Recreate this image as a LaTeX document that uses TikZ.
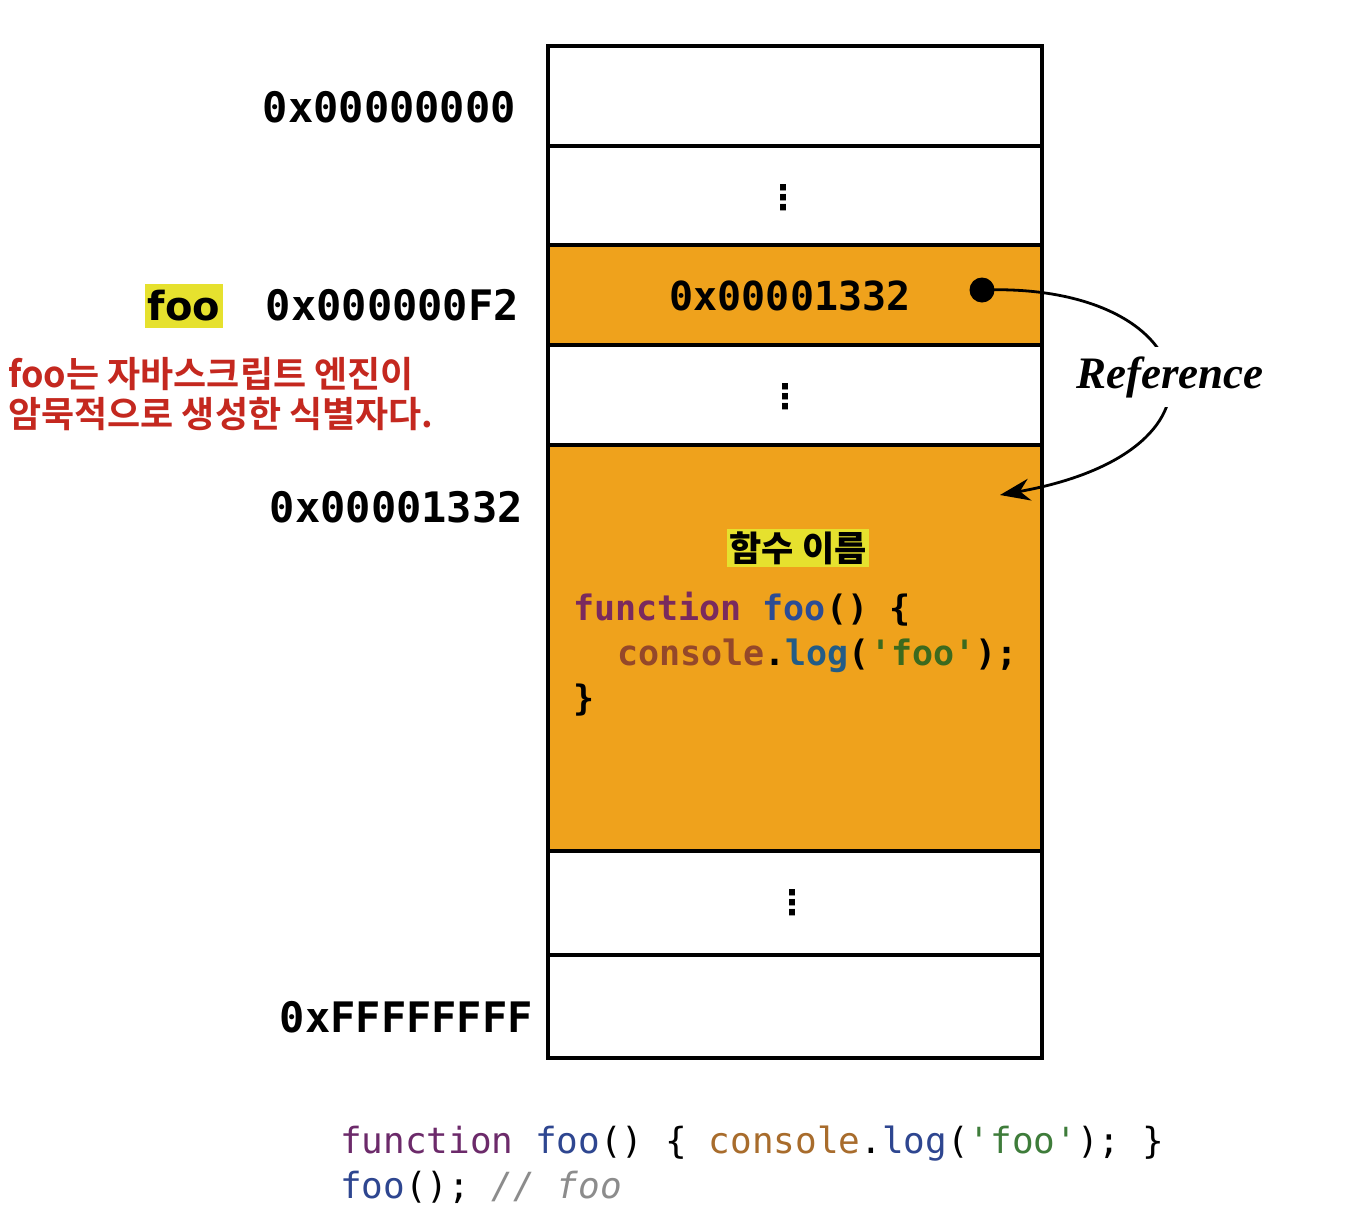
\documentclass[tikz,border=0pt]{standalone}
\usepackage{fontspec}
\setmonofont{DejaVu Sans Mono}
\newfontfamily\krfont{Noto Sans CJK KR}[BoldFont={Noto Sans CJK KR Bold}]
\newfontfamily\krblack{Noto Sans CJK KR Black}
\newfontfamily\reffont{Liberation Serif}
\newfontfamily\symfont{DejaVu Sans}
\usetikzlibrary{arrows.meta}
\definecolor{cellOrange}{HTML}{EFA21C}
\definecolor{hlYellow}{HTML}{E6E12E}
\definecolor{noteRed}{HTML}{C4281F}
\definecolor{kwPurple}{HTML}{7A2A5E}
\definecolor{fnBlue}{HTML}{2C4C94}
\definecolor{objBrown}{HTML}{94482A}
\definecolor{logBlue}{HTML}{235C86}
\definecolor{strGreen}{HTML}{3C6A1E}
\definecolor{kwPurpleB}{HTML}{6C2A6A}
\definecolor{fnBlueB}{HTML}{2E4690}
\definecolor{objBrownB}{HTML}{A86C2C}
\definecolor{strGreenB}{HTML}{3E7C3A}
\definecolor{cmtGray}{HTML}{8C8C8C}
\newcommand\sq{\textquotesingle}
\begin{document}
\begin{tikzpicture}[x=1pt,y=-1pt,
  cell/.style={draw=black, line width=3.4pt, minimum width=494pt, inner sep=0pt, outer sep=0pt},
  addr/.style={font=\ttfamily\bfseries\fontsize{42}{50}\selectfont, anchor=east, inner sep=0pt},
  vdots/.style={font=\symfont\bfseries\fontsize{34}{40}\selectfont, inner sep=0pt},
  codeA/.style={font=\ttfamily\bfseries\fontsize{35}{45}\selectfont, anchor=base west, inner sep=0pt},
  codeB/.style={font=\ttfamily\fontsize{36}{45}\selectfont, anchor=base west, inner sep=0pt},
  hl/.style={fill=hlYellow, inner sep=0pt},
  reflabel/.style={font=\reffont\bfseries\itshape\fontsize{45}{50}\selectfont, fill=white, inner xsep=3pt, inner ysep=9pt},
  refarrow/.style={line width=2.8pt, -{Stealth[length=30pt,width=22pt]}}
]
\useasboundingbox[fill=white] (0,0) rectangle (1367,1221);

% memory cells
\node[cell, minimum height=100pt] (r1) at (795,96) {};
\node[cell, minimum height=99pt] (r2) at (795,195.5) {};
\node[cell, fill=cellOrange, minimum height=100pt] (r3) at (795,295) {};
\node[cell, minimum height=100pt] (r4) at (795,395) {};
\node[cell, fill=cellOrange, minimum height=406pt] (r5) at (795,648) {};
\node[cell, minimum height=104pt] (r6) at (795,903) {};
\node[cell, minimum height=103pt] (r7) at (795,1006.5) {};

% vertical dots
\node[vdots] (d1) at (783,198) {⋮};
\node[vdots] (d2) at (785,397) {⋮};
\node[vdots] (d3) at (792,903) {⋮};

% addresses
\node[addr] (a0) at (516,107) {0x00000000};
\node[addr] (a1) at (519,305) {0x000000F2};
\node[addr] (a2) at (523,507) {0x00001332};
\node[addr] (a3) at (533,1017) {0xFFFFFFFF};

% foo identifier
\node[hl, minimum width=78pt, minimum height=44pt, font=\symfont\bfseries\fontsize{40}{46}\selectfont] (foo) at (184,306) {foo};
\node[anchor=west, align=left, inner sep=0pt, text=noteRed, font=\krfont\bfseries\fontsize{36}{40}\selectfont] (note) at (8,394) {foo는 자바스크립트 엔진이\\암묵적으로 생성한 식별자다.};

% value in cell
\node[font=\ttfamily\bfseries\fontsize{40}{48}\selectfont, inner sep=0pt] (val) at (790,296) {0x00001332};
\node[circle, fill=black, minimum size=25pt, inner sep=0pt] (dot) at (982,290) {};

% function object
\node[hl, inner xsep=3pt, inner ysep=2pt, font=\krblack\fontsize{35}{40}\selectfont] (fname) at (798,548) {함수 이름};
\node[codeA] (c1) at (573,620) {\textcolor{kwPurple}{function} \textcolor{fnBlue}{foo}() \{};
\node[codeA] (c2) at (617,665) {\textcolor{objBrown}{console}.\textcolor{logBlue}{log}(\textcolor{strGreen}{\sq foo\sq});};
\node[codeA] (c3) at (573,710) {\}};

% reference arrow
\coordinate (tip) at (1000,495);
\draw[refarrow] (dot.center) .. controls (1200,282) and (1250,450) .. (tip);
\node[reflabel] (ref) at (1170,377) {Reference};

% source code
\node[codeB] (s1) at (340,1153) {\textcolor{kwPurpleB}{function} \textcolor{fnBlueB}{foo}() \{ \textcolor{objBrownB}{console}.\textcolor{fnBlueB}{log}(\textcolor{strGreenB}{\sq foo\sq}); \}};
\node[codeB] (s2) at (340,1198) {\textcolor{fnBlueB}{foo}(); \textcolor{cmtGray}{\itshape // foo}};
\end{tikzpicture}
\end{document}
